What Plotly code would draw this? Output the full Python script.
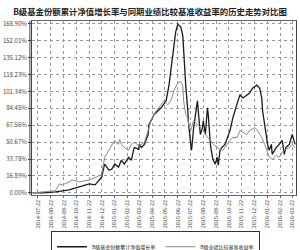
import plotly.graph_objects as go
import pandas as pd

START = "2014-07-10"

# fund B share cumulative NAV growth (%), x = days since START
fund_days = [0, 24, 54, 71, 87, 111, 135, 149, 158, 165, 170, 172, 182, 189, 196, 205, 212, 219, 229, 236,
             241, 243, 253, 255, 260, 267, 276, 278, 283, 290, 307, 319, 326, 335, 342, 347, 354, 359, 361, 366,
             371, 373, 378, 380, 385, 394, 396, 401, 406, 408, 413, 418, 420, 425, 430, 432, 437, 441, 444, 448,
             453, 460, 472, 479, 491, 496, 503, 512, 519, 526, 536, 543, 548, 550, 555, 559, 562, 566, 571, 573,
             583, 590, 597, 602, 606, 614, 618, 621, 625, 628]
fund_vals = [0.0, 0.0, 1.0, 2.0, 3.0, 5.9, 8.9, 7.9, 12.8, 15.8, 25.7, 28.7, 22.7, 23.7, 28.7, 25.7, 32.6, 28.7, 35.6, 32.6,
             42.5, 45.4, 43.5, 48.4, 45.4, 48.4, 58.3, 68.2, 72.1, 78.1, 85.0, 91.9, 107.7, 141.3, 161.0, 168.5, 166.0, 157.1, 141.3, 107.7,
             82.0, 68.2, 48.4, 42.5, 65.2, 91.9, 82.0, 58.3, 65.2, 72.1, 58.3, 85.0, 78.1, 48.4, 35.6, 32.6, 28.7, 35.6, 27.7, 42.5,
             45.4, 48.4, 62.2, 75.1, 91.9, 97.8, 94.8, 97.8, 99.8, 104.7, 107.7, 104.7, 94.8, 82.0, 68.2, 55.3, 48.4, 42.5, 48.4, 38.5,
             45.4, 48.4, 52.4, 38.5, 45.4, 48.4, 55.3, 58.3, 52.4, 48.4]

# benchmark return (%)
bench_days = [0, 54, 64, 71, 87, 94, 111, 135, 153, 165, 172, 182, 189, 196, 205, 208, 212, 219, 229, 236,
              243, 253, 260, 267, 276, 283, 295, 307, 314, 323, 330, 335, 337, 347, 354, 359, 361, 366, 371, 373,
              378, 385, 394, 401, 408, 418, 425, 432, 441, 448, 455, 465, 472, 479, 489, 496, 503, 512, 519, 531,
              538, 548, 555, 562, 566, 573, 583, 590, 597, 606, 614, 621, 628]
bench_vals = [0.0, 2.0, 8.9, 7.9, 10.9, 12.8, 10.9, 12.8, 15.8, 18.8, 35.6, 42.5, 48.4, 52.4, 48.4, 53.4, 48.4, 45.4, 42.5, 48.4,
              50.4, 47.4, 48.4, 50.4, 62.2, 72.1, 82.0, 87.9, 91.9, 87.9, 91.9, 97.8, 101.8, 109.7, 111.6, 106.7, 91.9, 78.1, 75.1, 68.2,
              62.2, 72.1, 68.2, 65.2, 62.2, 55.3, 52.4, 48.4, 45.4, 43.5, 42.5, 48.4, 52.4, 55.3, 55.3, 62.2, 60.3, 58.3, 62.2, 65.2,
              62.2, 55.3, 48.4, 40.5, 35.6, 33.6, 37.5, 35.6, 40.5, 43.5, 45.4, 48.4, 45.4]

tick_labels = ["2014-07-22", "2014-08-22", "2014-09-22", "2014-10-22", "2014-11-22", "2014-12-22", "2015-01-22",
               "2015-02-22", "2015-03-22", "2015-04-22", "2015-05-22", "2015-06-22", "2015-07-22", "2015-08-22",
               "2015-09-22", "2015-10-22", "2015-11-22", "2015-12-22", "2016-01-22", "2016-02-22", "2016-03-22"]
y_ticks = [0.00, 16.89, 33.78, 50.67, 67.56, 84.45, 101.34, 118.23, 135.12, 152.01, 168.90]

start = pd.Timestamp(START)
fund_x = start + pd.to_timedelta(fund_days, unit="D")
bench_x = start + pd.to_timedelta(bench_days, unit="D")

fig = go.Figure()
fig.add_trace(go.Scatter(x=fund_x, y=fund_vals, mode="lines", name="B级基金份额累计净值增长率",
                         line=dict(color="#1a1a1a", width=1.3)))
fig.add_trace(go.Scatter(x=bench_x, y=bench_vals, mode="lines", name="B级业绩比较基准收益率",
                         line=dict(color="#8a8a8a", width=1)))

FONT = "Noto Sans CJK SC"
fig.update_layout(
    width=300, height=250,
    margin=dict(l=31, r=3, t=21, b=52),
    paper_bgcolor="white", plot_bgcolor="white",
    font=dict(family=FONT, color="#333", size=6),
    title=dict(text="<b>B级基金份额累计净值增长率与同期业绩比较基准收益率的历史走势对比图</b>",
               x=0.5, xanchor="center", y=0.965, yanchor="top",
               font=dict(family=FONT, size=8.4, color="#222")),
    showlegend=True,
    legend=dict(orientation="h", xref="container", yref="container",
                x=0.17, xanchor="left", y=0.075, yanchor="top",
                bordercolor="#333", borderwidth=1, font=dict(size=5, family=FONT, color="#222"),
                itemwidth=30, tracegroupgap=0),
)
fig.update_xaxes(
    type="date",
    range=[start - pd.Timedelta(days=2), start + pd.Timedelta(days=630)],
    tickmode="array",
    tickvals=pd.to_datetime(tick_labels), ticktext=tick_labels,
    tickangle=-90, tickfont=dict(size=5.5, color="#444"),
    showgrid=True, gridcolor="#999", griddash="dot", gridwidth=1,
    showline=True, linecolor="#666", linewidth=1, mirror=True,
    ticks="outside", ticklen=2, tickcolor="#666",
)
fig.update_yaxes(
    range=[-2.0, 171.8],
    tickmode="array", tickvals=y_ticks, ticktext=[f"{v:.2f}%" for v in y_ticks],
    tickfont=dict(size=6, color="#444"),
    showgrid=True, gridcolor="#999", griddash="dot", gridwidth=1,
    zeroline=False,
    showline=True, linecolor="#444", linewidth=1, mirror=True,
    ticks="outside", ticklen=3, tickcolor="#444",
)
fig.add_shape(type="line", xref="paper", yref="paper", x0=-0.008, x1=-0.008, y0=0, y1=1,
              line=dict(color="#444", width=1))

fig.write_html("out.html")
